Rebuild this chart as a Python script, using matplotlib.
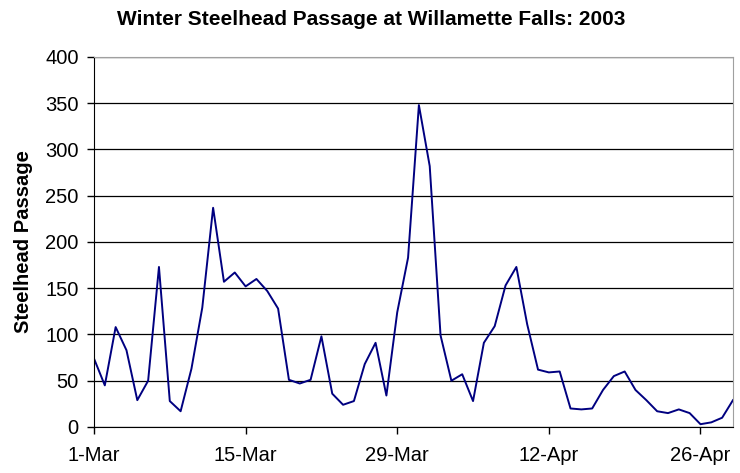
import pandas as pd
import numpy as np
import matplotlib
matplotlib.use("Agg")
import matplotlib.pyplot as plt

plt.rcParams['font.family'] = ['Liberation Sans', 'DejaVu Sans']

# daily counts, 1-Mar to 29-Apr 2003
passage = [74, 45, 108, 83, 29, 50, 173, 28, 17, 63,
           129, 237, 157, 167, 152, 160, 147, 128, 51, 47,
           51, 98, 36, 24, 28, 68, 91, 34, 124, 183,
           348, 282, 99, 50, 57, 28, 91, 109, 153, 173,
           111, 62, 59, 60, 20, 19, 20, 40, 55, 60,
           40, 29, 17, 15, 19, 15, 3, 5, 10, 29]
dates = pd.date_range('2003-03-01', periods=len(passage), freq='D')
tick_dates = dates[::14]
tick_labels = [f"{d.day}-{d.strftime('%b')}" for d in tick_dates]

fig = plt.figure(figsize=(7.4, 4.73), dpi=100)
ax = fig.add_axes([0.127, 0.0973, 0.8635, 0.7822])

ax.plot(dates, passage, color='#000080', linewidth=1.4)

ax.set_xlim(dates[0], dates[-1])
ax.set_ylim(0, 400)
ax.set_yticks(np.arange(0, 401, 50))
ax.set_xticks(tick_dates)
ax.set_xticklabels(tick_labels)
ax.tick_params(labelsize=14.5, direction='out', length=5, width=1)
ax.tick_params(axis='y', pad=6)
ax.tick_params(axis='x', pad=9)

ax.grid(axis='y', color='black', linewidth=0.9)
ax.set_axisbelow(True)
for s in ['top', 'right']:
    ax.spines[s].set_color('#a0a0a0')
for s in ['left', 'bottom']:
    ax.spines[s].set_color('black')

ax.set_ylabel('Steelhead Passage', fontsize=14.5, fontweight='bold')
ax.yaxis.set_label_coords(-0.095, 0.5)
fig.suptitle('Winter Steelhead Passage at Willamette Falls: 2003',
             fontsize=15, fontweight='bold', x=0.502, y=0.978, va='top')

fig.savefig('out.png', dpi=100)
